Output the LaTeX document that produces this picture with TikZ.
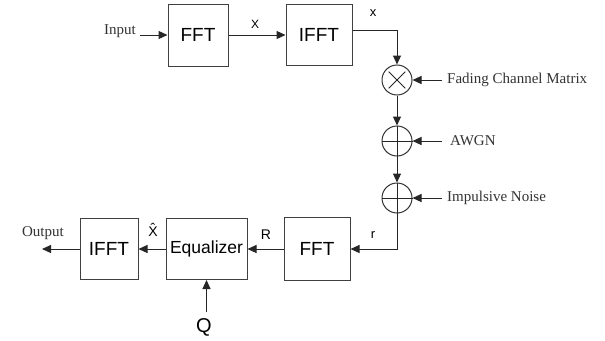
\documentclass[tikz,border=0pt]{standalone}
\usepackage{fontspec}
\setmainfont{Liberation Serif}
\setsansfont{Liberation Sans}
\usetikzlibrary{arrows.meta,calc}

\begin{document}
\begin{tikzpicture}[x=1pt, y=-1pt, >={Triangle[length=9pt,width=8pt]},
    blk/.style={draw=black!75, line width=1pt, inner sep=0pt, font=\sffamily\fontsize{19}{22}\selectfont},
    mix/.style={circle, draw=black!80, line width=1pt, minimum size=30pt, inner sep=0pt},
    lbl/.style={font=\rmfamily\fontsize{15}{17}\selectfont, text=black!80, inner sep=0pt},
    sig/.style={font=\sffamily\fontsize{14}{16}\selectfont, inner sep=0pt},
    wire/.style={draw=black!85, line width=1pt}]

        \useasboundingbox (0,0) rectangle (605,340);

        %
        \def\ytop{35}
        \def\ybot{249}
        \def\xch{397}

        %
        \node[blk, minimum width=60pt, minimum height=62pt] (fft) at (198,\ytop) {FFT};
        \node[blk, minimum width=66pt, minimum height=61pt] (ifft) at (319,\ytop) {IFFT};
        \node[blk, minimum width=66pt, minimum height=63pt] (fftr) at (317,\ybot) {FFT};
        \node[blk, minimum width=81pt, minimum height=61pt, font=\sffamily\fontsize{17.5}{20}\selectfont] (eq) at (206.5,\ybot) {Equalizer};
        \node[blk, minimum width=58pt, minimum height=61pt] (iffto) at (109,\ybot) {IFFT};

        %
        \node[mix] (mul) at (\xch,80) {};
        \node[mix] (awgn) at (\xch,141) {};
        \node[mix] (imp) at (\xch,198) {};
        \draw[wire] ($(mul.north west)!0.12!(mul.south east)$) -- ($(mul.north west)!0.88!(mul.south east)$);
        \draw[wire] ($(mul.north east)!0.12!(mul.south west)$) -- ($(mul.north east)!0.88!(mul.south west)$);
        \draw[wire] (awgn.north) -- (awgn.south);
        \draw[wire] (awgn.west) -- (awgn.east);
        \draw[wire] (imp.north) -- (imp.south);
        \draw[wire] (imp.west) -- (imp.east);

        %
        \node[lbl, anchor=east] (in) at (136,31) {Input};
        \node[lbl, anchor=east] (out) at (64,233) {Output};
        \node[lbl, anchor=west] (fcm) at (447,80) {Fading Channel Matrix};
        \node[lbl, anchor=west] (noise) at (450,141) {AWGN};
        \node[lbl, anchor=west] (imn) at (447,198) {Impulsive Noise};

        %
        \node[sig, font=\sffamily\fontsize{12}{14}\selectfont] (lX) at (255,24) {X};
        \node[sig, font=\sffamily\fontsize{13}{15}\selectfont] (lx) at (373,13) {x};
        \node[sig, font=\sffamily\fontsize{13}{15}\selectfont] (lr) at (373,235) {r};
        \node[sig] (lR) at (266,235) {R};
        \node[sig] (lXh) at (153,230) {\^{X}};
        \node[sig, font=\sffamily\fontsize{20}{22}\selectfont] (lQ) at (204,327) {Q};

        %
        \coordinate (inS) at (140,\ytop);
        \coordinate (outE) at (42,\ybot);
        \coordinate (qS) at (206.5,312);
        \coordinate (c1) at (\xch,30);
        \coordinate (c2) at (\xch,\ybot);

        %
        \draw[wire, ->] (inS) -- (fft.west);
        \draw[wire, ->] (fft.east) -- (ifft.west);
        \draw[wire, ->] (ifft.east |- c1) -- (c1) -- (mul.north);
        \draw[wire, ->] (mul.south) -- (awgn.north);
        \draw[wire, ->] (awgn.south) -- (imp.north);
        \draw[wire, ->] (imp.south) -- (c2) -- (fftr.east);
        \draw[wire, ->] (fftr.west) -- (eq.east);
        \draw[wire, ->] (eq.west) -- (iffto.east);
        \draw[wire, ->] (iffto.west) -- (outE);
        \draw[wire, ->] (qS) -- (eq.south);

        %
        \draw[wire, ->] ($(fcm.west)+(-5,0)$) -- (mul.east);
        \draw[wire, ->] ($(noise.west)+(-8,0)$) -- (awgn.east);
        \draw[wire, ->] ($(imn.west)+(-5,0)$) -- (imp.east);

\end{tikzpicture}
\end{document}
